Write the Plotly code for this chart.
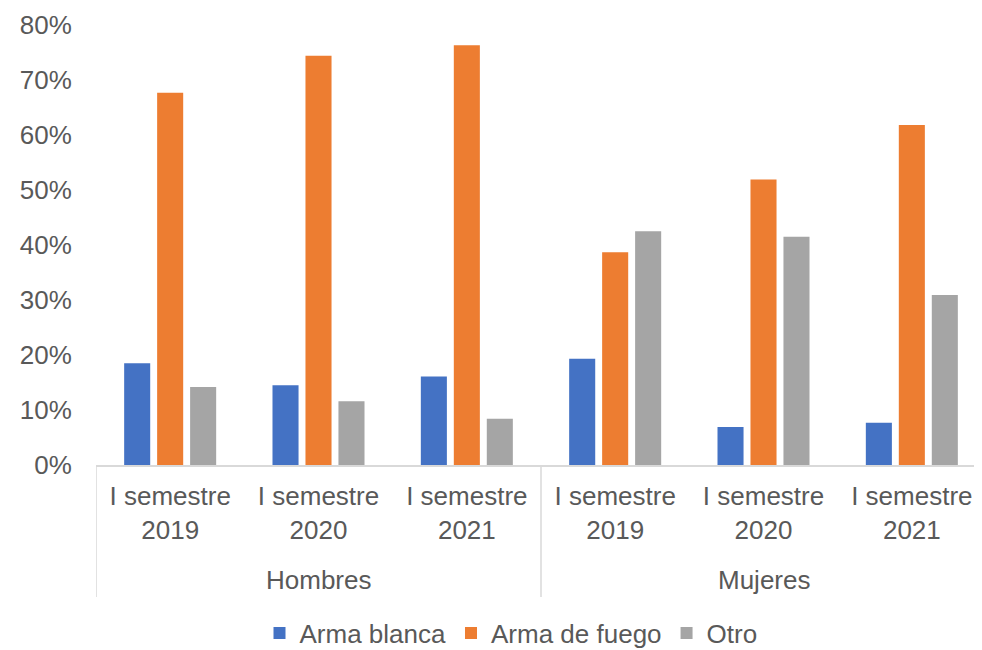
import plotly.graph_objects as go

groups = ["Hombres", "Mujeres"]
periods = ["I semestre<br>2019", "I semestre<br>2020", "I semestre<br>2021"]
series_names = ["Arma blanca", "Arma de fuego", "Otro"]
arma_blanca = [0.185, 0.145, 0.161, 0.193, 0.069, 0.077]
arma_fuego = [0.677, 0.744, 0.763, 0.387, 0.519, 0.618]
otro = [0.142, 0.116, 0.084, 0.425, 0.415, 0.309]
y_ticks = [0, 0.1, 0.2, 0.3, 0.4, 0.5, 0.6, 0.7, 0.8]

colors = ["#4472C4", "#ED7D31", "#A5A5A5"]
txt = "#595959"
font = "Liberation Sans, Arial, sans-serif"
fs = 26

n = len(groups) * len(periods)
xpos = list(range(n))
ticktext = periods * len(groups)

fig = go.Figure()
for name, vals, c in zip(series_names, [arma_blanca, arma_fuego, otro], colors):
    fig.add_trace(go.Bar(x=xpos, y=vals, name=name, marker=dict(color=c, line=dict(width=0))))

# page body has an 8px margin; figure is sized/positioned to compensate
OFF = 8
W, H = 982 - OFF, 650 - OFF
BASE = 465 - OFF
L, R, T, B = 96 - OFF, 0, 25 - OFF, H - BASE
xmax = 5.5 - 0.027
plot_h = H - T - B


def py(ypix):
    return -((ypix - OFF) - BASE) / plot_h


fig.update_layout(
    width=W, height=H,
    margin=dict(l=L, r=R, t=T, b=B, autoexpand=False),
    paper_bgcolor="white", plot_bgcolor="white",
    barmode="group", bargap=0.333, bargroupgap=0.21,
    font=dict(family=font, size=fs, color=txt),
    showlegend=True,
    legend=dict(orientation="h", x=(511 - 96) / 886, xanchor="center", y=py(633), yanchor="middle",
                font=dict(size=fs, color=txt), traceorder="normal",
                itemwidth=30, tracegroupgap=0),
    xaxis=dict(range=[-0.5, xmax], tickmode="array", tickvals=xpos, ticktext=ticktext,
               showgrid=False, zeroline=False, showline=True, linecolor="#D9D9D9", linewidth=1.5,
               ticks="outside", ticklen=7, tickcolor="rgba(0,0,0,0)", automargin=False,
               tickfont=dict(size=fs, color=txt), fixedrange=True),
    yaxis=dict(range=[0, 0.8], tickmode="array", tickvals=y_ticks, tickformat=".0%",
               showgrid=False, zeroline=False, showline=False,
               ticks="outside", ticklen=18, tickcolor="rgba(0,0,0,0)", automargin=False,
               tickfont=dict(size=fs, color=txt), fixedrange=True),
)

# group dividers and labels
for gi, g in enumerate(groups):
    left = gi * len(periods) - 0.5
    fig.add_shape(type="line", xref="x", yref="paper", x0=left, x1=left,
                  y0=0, y1=py(597), line=dict(color="#D9D9D9", width=1.5))
    center = gi * len(periods) + (len(periods) - 1) / 2
    fig.add_annotation(x=center, xref="x", y=py(580), yref="paper",
                       text=g, showarrow=False, yanchor="middle",
                       font=dict(size=fs, color=txt))

fig.write_html("out.html")
